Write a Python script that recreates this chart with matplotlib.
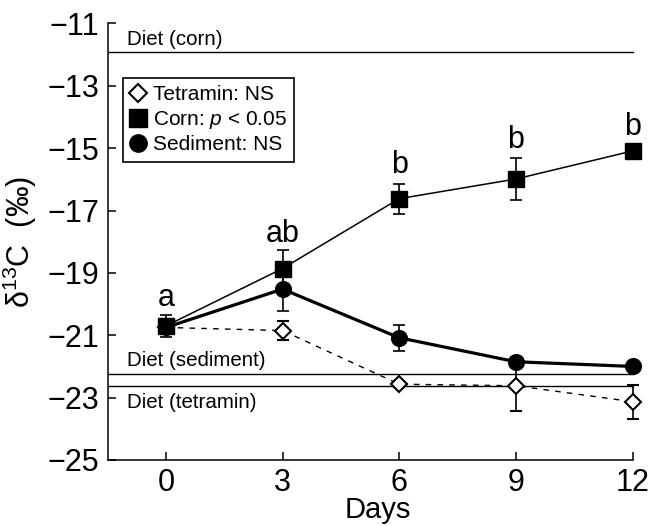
import matplotlib
matplotlib.use('Agg')
import matplotlib.pyplot as plt
from matplotlib.lines import Line2D

plt.rcParams['font.family'] = ['Liberation Sans', 'DejaVu Sans']
plt.rcParams['mathtext.fontset'] = 'custom'
plt.rcParams['mathtext.rm'] = 'Liberation Sans'
plt.rcParams['mathtext.it'] = 'Liberation Sans:italic'

days = [0, 3, 6, 9, 12]
tetramin = [-20.75, -20.85, -22.57, -22.62, -23.13]
tetramin_err = [0.1, 0.3, 0.1, 0.8, 0.55]
corn = [-20.7, -18.86, -16.62, -15.99, -15.09]
corn_err = [0.35, 0.6, 0.48, 0.68, 0.1]
sediment = [-20.75, -19.52, -21.08, -21.85, -22.0]
sediment_err = [0.1, 0.7, 0.42, 0.15, 0.15]

diet_corn = -11.93
diet_sediment = -22.24
diet_tetramin = -22.63

letters = ['a', 'ab', 'b', 'b', 'b']
letter_y = [-19.8, -17.76, -15.54, -14.74, -14.31]

fig = plt.figure(figsize=(6.52, 5.26), dpi=100)
ax = fig.add_axes([0.165, 0.1255, 0.829, 0.830])

# diet reference lines
for yv in (diet_corn, diet_sediment, diet_tetramin):
    ax.plot([-1.5, 12], [yv, yv], color='black', lw=1.0, zorder=1)
ax.text(-1.0, diet_corn + 0.12, 'Diet (corn)', fontsize=14.8, va='bottom', ha='left')
ax.text(-1.0, -21.8, 'Diet (sediment)', fontsize=14.8, va='center', ha='left')
ax.text(-1.0, -23.16, 'Diet (tetramin)', fontsize=14.8, va='center', ha='left')

ax.errorbar(days, sediment, yerr=sediment_err, fmt='o-', color='black', ms=11.3,
            lw=2.3, elinewidth=1.2, capsize=4, capthick=1.2, zorder=3, clip_on=False)
ax.errorbar(days, tetramin, yerr=tetramin_err, fmt='D', color='black', mfc='white',
            ms=8.6, mew=1.5, ls=(0, (4, 4.5)), lw=1.0, elinewidth=1.2, capsize=4,
            capthick=1.2, zorder=4, clip_on=False)
ax.errorbar(days, corn, yerr=corn_err, fmt='s-', color='black', ms=11.7,
            lw=1.1, elinewidth=1.2, capsize=4, capthick=1.2, zorder=5, clip_on=False)

for d, lab, yv in zip(days, letters, letter_y):
    ax.text(d, yv, lab, fontsize=22, ha='center', va='center')

ax.set_xlim(-1.5, 12.4)
ax.set_ylim(-25, -11)
ax.set_xticks(days)
ax.set_yticks(range(-25, -10, 2))
ax.set_yticklabels(['\u2212%d' % abs(v) for v in range(-25, -10, 2)])
ax.spines['top'].set_visible(False)
ax.spines['right'].set_visible(False)
ax.spines['bottom'].set_bounds(-1.5, 12)
for s in ('left', 'bottom'):
    ax.spines[s].set_linewidth(1.1)
ax.tick_params(direction='in', length=6, width=1.1, labelsize=22, pad=6)

ax.set_xlabel('Days', fontsize=21, labelpad=-2)
ax.set_ylabel('\u03b4$^{13}$C  (\u2030)', fontsize=22, labelpad=6)

handles = [
    Line2D([], [], ls='none', marker='D', ms=9.5, mfc='white', mec='black', mew=1.5),
    Line2D([], [], ls='none', marker='s', ms=12.5, color='black'),
    Line2D([], [], ls='none', marker='o', ms=12.5, color='black'),
]
leg = ax.legend(handles, ['Tetramin: NS', 'Corn: $p$ < 0.05', 'Sediment: NS'],
                loc='upper left', bbox_to_anchor=(0.028, 0.875), borderaxespad=0,
                fontsize=15, handlelength=0.8, handletextpad=0.3,
                labelspacing=0.22, borderpad=0.35, fancybox=False, framealpha=1)
leg.get_frame().set_edgecolor('black')
leg.get_frame().set_linewidth(1.2)

fig.savefig('out.png', dpi=100)
